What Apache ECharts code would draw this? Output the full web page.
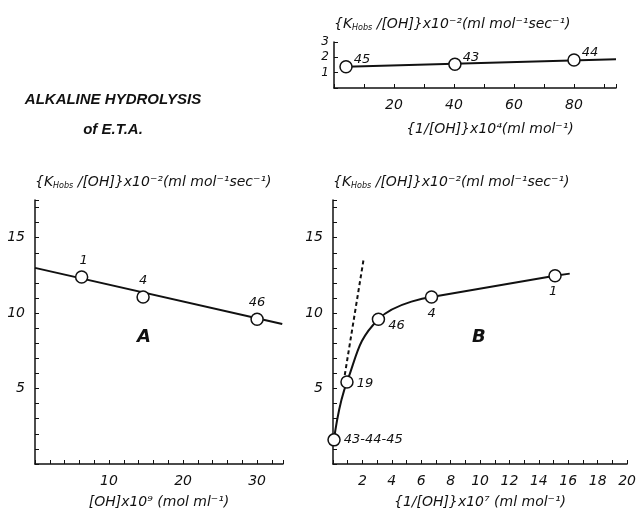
<!DOCTYPE html>
<html>
<head>
	<meta charset="utf-8">
	<title>alkaline hydrolysis of E.T.A.</title>
	<script src="https://cdn.jsdelivr.net/npm/echarts@6/dist/echarts.min.js"></script>
	<style>
		body { margin: 0; background: #fff; }
		#chart { width: 639px; height: 514px; }
	</style>
</head>
<body>
	<div id="chart"></div>
	<script>
		// panel A : k/[OH] against [OH]
		var aX = [6.3, 14.6, 30.0];
		var aY = [12.4, 11.07, 9.6];
		var aNames = ['1', '4', '46'];
		var aFit = [[0, 13.0], [33.4, 9.28]];

		// panel B : k/[OH] against 1/[OH]
		var bX = [0.07, 0.95, 3.09, 6.7, 15.1];
		var bY = [1.6, 5.44, 9.6, 11.07, 12.48];
		var bNames = ['43-44-45', '19', '46', '4', '1'];
		var bCurve = [[0.07, 1.6], [0.95, 5.44], [3.09, 9.6], [6.7, 11.07]];
		var bTail = [[6.7, 11.07], [15.1, 12.48], [16.1, 12.62]];
		var bDash = [[0.8, 5.9], [2.07, 13.5]];

		// inset : low [OH] runs
		var cX = [4, 40.3, 80];
		var cY = [1.39, 1.55, 1.83];
		var cNames = ['45', '43', '44'];
		var cFit = [[4, 1.39], [94, 1.87]];

		var font = 'DejaVu Sans';
		var ink = '#111';

		var yName = '{{b|K}{s|Hobs} /[OH]}x10⁻²(ml mol⁻¹sec⁻¹)';
		var richName = {
			b: { fontFamily: font, fontStyle: 'italic', fontSize: 14, color: ink },
			s: { fontFamily: font, fontStyle: 'italic', fontSize: 8, color: ink, padding: [8, 0, 0, 0] }
		};

		function pts(xs, ys, names, pos) {
			var out = [];
			for (var i = 0; i < xs.length; i++) {
				out.push({
					value: [xs[i], ys[i]],
					label: {
						show: true, formatter: names[i], position: pos[i][0], offset: pos[i][1],
						color: ink, textBorderWidth: 0, fontFamily: font, fontStyle: 'italic', fontSize: 13
					}
				});
			}
			return out;
		}

		function xAxisOf(idx, max, step, labelStep, name, nameGap, shift) {
			return {
				gridIndex: idx, type: 'value', min: 0, max: max, interval: step,
				name: name, nameLocation: 'middle', nameGap: nameGap,
				nameTextStyle: { fontFamily: font, fontStyle: 'italic', fontSize: 14, color: ink, padding: [0, 0, 0, shift] },
				axisLine: { lineStyle: { color: ink, width: 1.5 } },
				axisTick: { inside: true, length: 4, lineStyle: { color: ink } },
				splitLine: { show: false },
				axisLabel: {
					fontFamily: font, fontStyle: 'italic', fontSize: 14, color: ink, margin: 10,
					formatter: function (v) { return (v > 0 && Math.abs(v % labelStep) < 1e-6) ? v : ''; }
				}
			};
		}

		function yAxisOf(idx, max, step, labelStep, fs, margin) {
			return {
				gridIndex: idx, type: 'value', min: 0, max: max, interval: step,
				name: yName, nameLocation: 'end', nameGap: 10,
				nameTextStyle: { align: 'left', fontFamily: font, fontStyle: 'italic', fontSize: 14, color: ink, rich: richName },
				axisLine: { lineStyle: { color: ink, width: 1.5 } },
				axisTick: { inside: true, length: 4, lineStyle: { color: ink } },
				splitLine: { show: false },
				axisLabel: {
					fontFamily: font, fontStyle: 'italic', fontSize: fs, color: ink, margin: margin,
					formatter: function (v) { return (v > 0 && Math.abs(v % labelStep) < 1e-6) ? v : ''; }
				}
			};
		}

		var dot = {
			type: 'scatter', symbol: 'circle', symbolSize: 12, z: 5,
			itemStyle: { color: '#fff', borderColor: ink, borderWidth: 1.5, opacity: 1 }
		};

		function fitLine(idx, data, dashed) {
			return {
				type: 'line', xAxisIndex: idx, yAxisIndex: idx, data: data, symbol: 'none',
				lineStyle: { color: ink, width: 2, type: dashed ? [4, 3] : 'solid' }
			};
		}

		var option = {
			animation: false,
			backgroundColor: '#fff',
			title: {
				text: 'ALKALINE HYDROLYSIS\nof E.T.A.',
				left: 108, top: 80, textAlign: 'center',
				textStyle: { fontFamily: 'Liberation Sans', fontStyle: 'italic', fontWeight: 'bold', fontSize: 15, color: ink, lineHeight: 30 }
			},
			grid: [
				{ left: 35, top: 200, width: 248, height: 264 },
				{ left: 333, top: 200, width: 300, height: 264 },
				{ left: 334, top: 42, width: 282, height: 46 }
			],
			xAxis: [
				xAxisOf(0, 33.5, 2, 10, '[OH]x10⁹ (mol ml⁻¹)', 31, 0),
				xAxisOf(1, 20, 1, 2, '{1/[OH]}x10⁷ (ml mol⁻¹)', 31, 0),
				xAxisOf(2, 94, 10, 20, '{1/[OH]}x10⁴(ml mol⁻¹)', 34, 30)
			],
			yAxis: [
				yAxisOf(0, 17.5, 1, 5, 14, 10),
				yAxisOf(1, 17.5, 1, 5, 14, 10),
				yAxisOf(2, 3, 1, 1, 12, 5)
			],
			graphic: [
				{ type: 'text', left: 137, top: 328, style: { text: 'A', fontFamily: font, fontStyle: 'italic', fontWeight: 'bold', fontSize: 18, fill: ink } },
				{ type: 'text', left: 472, top: 328, style: { text: 'B', fontFamily: font, fontStyle: 'italic', fontWeight: 'bold', fontSize: 18, fill: ink } }
			],
			series: [
				fitLine(0, aFit, false),
				fitLine(1, bDash, true),
				Object.assign({}, fitLine(1, bCurve, false), { smooth: 0.45 }),
				fitLine(1, bTail, false),
				fitLine(2, cFit, false),
				Object.assign({}, dot, {
					xAxisIndex: 0, yAxisIndex: 0,
					data: pts(aX, aY, aNames, [['top', [2, 2]], ['top', [0, 2]], ['top', [0, 2]]])
				}),
				Object.assign({}, dot, {
					xAxisIndex: 1, yAxisIndex: 1,
					data: pts(bX, bY, bNames, [['right', [-2, 0]], ['right', [-2, 2]], ['right', [-2, 6]], ['bottom', [0, -2]], ['bottom', [-2, -2]]])
				}),
				Object.assign({}, dot, {
					xAxisIndex: 2, yAxisIndex: 2,
					data: pts(cX, cY, cNames, [['right', [-4, -7]], ['right', [-4, -7]], ['right', [-4, -7]]])
				})
			]
		};

		var myChart = echarts.init(document.getElementById('chart'));
		myChart.setOption(option);
	</script>
</body>
</html>
